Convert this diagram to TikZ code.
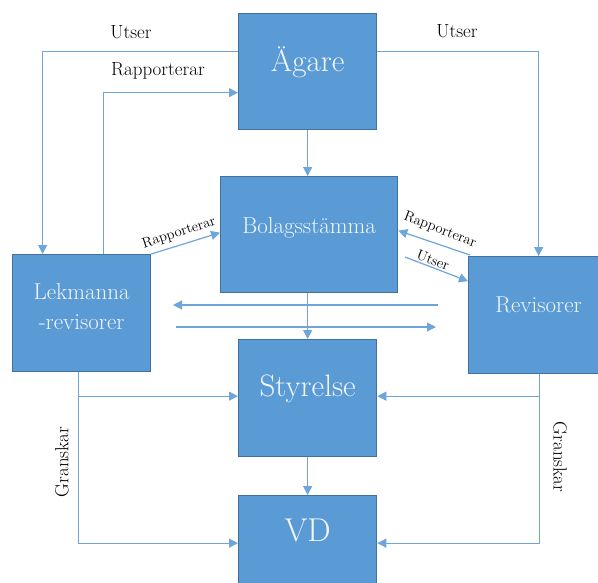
\documentclass[tikz,border=0pt]{standalone}
\usetikzlibrary{arrows.meta}
\definecolor{boxfill}{HTML}{5B9BD5}
\definecolor{boxline}{HTML}{41719C}
\definecolor{conncol}{HTML}{6EA6DC}
\definecolor{boxtext}{HTML}{F2F6FB}
\begin{document}
\begin{tikzpicture}[x=1pt,y=-1pt,
  box/.style={draw=boxline,line width=1.3pt,fill=boxfill,text=boxtext,
    minimum width=138pt,minimum height=116pt,inner sep=0pt,anchor=north west,align=center},
  big/.style={font=\fontsize{31}{33}\selectfont,text=boxtext},
  mid/.style={font=\fontsize{23}{30}\selectfont,text=boxtext},
  conn/.style={draw=conncol,line width=1.2pt,-{Triangle[length=9pt,width=9pt]}},
  lbl/.style={font=\fontsize{19}{21}\selectfont,text=black,inner sep=0pt},
  slbl/.style={font=\fontsize{14.5}{16}\selectfont,text=black,inner sep=0pt}]
\useasboundingbox (0,0) rectangle (598,582);
\clip (0,0) rectangle (598,582);
\fill[white] (0,0) rectangle (598,582);

% boxes
\node[box] (ag) at (238,13) [minimum width=138pt,minimum height=116pt] {};
\node[big] (agt) at ([yshift=9pt]ag.center) {Ägare};
\node[box] (bol) at (220,176) [minimum width=177pt,minimum height=116pt] {};
\node[mid] (bolt) at ([yshift=7pt]bol.center) {Bolagsstämma};
\node[box] (lek) at (12,254) [minimum width=138pt,minimum height=117pt] {};
\node[mid,align=center] (lekt) at ([yshift=7pt]lek.center) {Lekmanna\\-revisorer};
\node[box] (rev) at (468,256) [minimum width=140pt,minimum height=117pt] {};
\node[mid] (revt) at ([yshift=10pt]rev.center) {Revisorer};
\node[box] (sty) at (238,339) [minimum width=138pt,minimum height=117pt] {};
\node[big] (styt) at ([yshift=9pt]sty.center) {Styrelse};
\node[box] (vd) at (238,495) [minimum width=138pt,minimum height=117pt] {};
\node[big,font=\fontsize{33}{35}\selectfont] (vdt) at ([yshift=24pt]vd.center) {VD};

% free ends
\coordinate (utsstart) at (405,257);
\coordinate (h1s) at (438,305);
\coordinate (h1e) at (173,305);
\coordinate (h2s) at (176,327);
\coordinate (h2e) at (436,327);

% connectors
\draw[conn] ([yshift=20pt]ag.west) -| ([xshift=-39pt]lek.north);
\draw[conn] ([xshift=22pt]lek.north) |- ([yshift=-21pt]ag.west);
\draw[conn] ([yshift=20pt]ag.east) -| (rev.north);
\draw[conn] (ag.south) -- (ag.south |- bol.north);
\draw[conn] (lek.north east) -- ([yshift=2pt]bol.west);
\draw[conn] ([xshift=2pt,yshift=1pt]rev.north west) -- ([yshift=4pt]bol.east);
\draw[conn] (utsstart) -- ([yshift=34pt]rev.west);
\draw[conn] (h1s) -- (h1e);
\draw[conn] (h2s) -- (h2e);
\draw[conn] (bol.south -| ag.south) -- (sty.north);
\draw[conn] ([xshift=-3pt]lek.south) |- ([yshift=2pt]sty.west);
\draw[conn] ([xshift=-3pt]lek.south) |- ([yshift=11pt]vd.west);
\draw[conn] ([xshift=1pt]rev.south) |- ([yshift=2pt]sty.east);
\draw[conn] ([xshift=1pt]rev.south) |- ([yshift=11pt]vd.east);
\draw[conn] (sty.south) -- (vd.north);

% labels
\node[lbl] (l1) at (131,32) {Utser};
\node[lbl] (l2) at (158,71) {Rapporterar};
\node[lbl] (l3) at (457,31) {Utser};
\node[lbl,rotate=90] (l4) at (62,462) {Granskar};
\node[lbl,rotate=-90] (l5) at (560,457) {Granskar};
\node[slbl,rotate=18] (l6) at (179,233) {Rapporterar};
\node[slbl,rotate=-21] (l7) at (440,230) {Rapporterar};
\node[slbl,rotate=-21] (l8) at (433,260) {Utser};
\end{tikzpicture}
\end{document}
